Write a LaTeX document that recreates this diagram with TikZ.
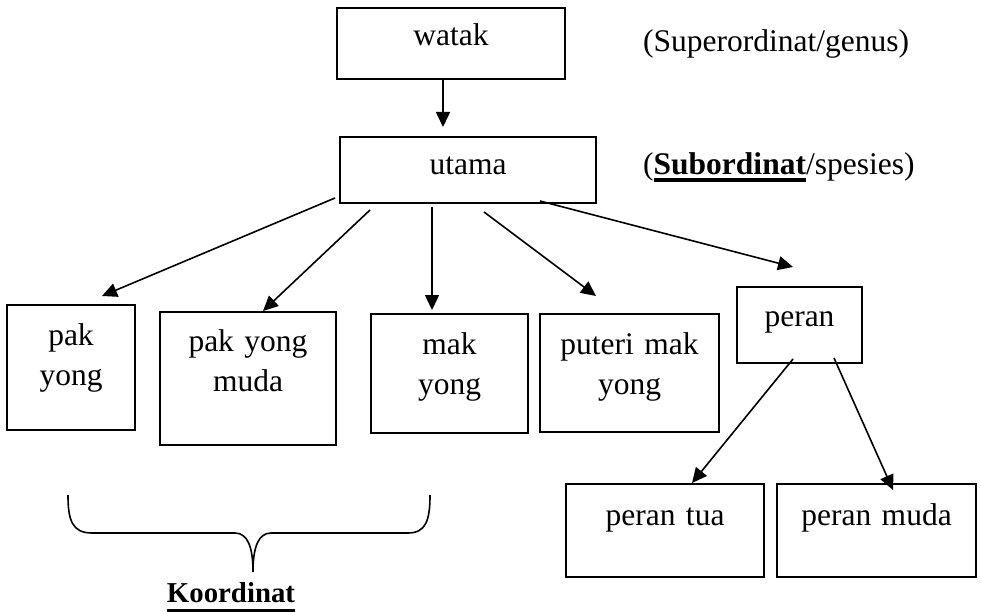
\documentclass[tikz,border=0pt]{standalone}
\usepackage{fontspec}
\setmainfont{Liberation Serif}
\usetikzlibrary{arrows.meta}

\newcommand{\ulword}[2][-7.5pt]{\setbox0\hbox{#2}\rlap{\rule[#1]{\wd0}{3.5pt}}\box0}

\tikzset{every node/.style={font=\fontsize{31.5}{40}\selectfont}}
\tikzset{box/.style n args={3}{draw, line width=1.8pt, inner sep=0pt, outer sep=0pt, anchor=north west, align=center, text width=#1pt, text height=#2pt, text depth=#3pt}}
\tikzset{arr/.style={line width=1.6pt, -{Triangle[length=15pt,width=14pt]}}}
\tikzset{note/.style={anchor=base west, inner sep=0pt}}

\begin{document}
\begin{tikzpicture}[x=1pt, y=-1pt]
				\useasboundingbox (0,0) rectangle (981,612);
				% top levels
				\node[box={228}{38}{33}] (watak) at (337,8) {watak};
				\node[box={256}{38}{28}] (utama) at (340,137) {utama};
				\node[note] (genus) at (643,52) {(Superordinat/genus)};
				\node[note] (spesies) at (643,175) {(\ulword[-7pt]{\textbf{Subordinat}}/spesies)};
				% third level
				\node[box={128}{40}{85}] (pakyong) at (7,305) {pak\\yong};
				\node[box={176}{39}{94}] (pakyongmuda) at (160,312) {pak yong\\muda};
				\node[box={157}{40}{79}] (makyong) at (371,314) {mak\\yong};
				\node[box={179}{40}{78}] (puteri) at (540,314) {puteri mak\\yong};
				\node[box={125}{39}{37}] (peran) at (737,287) {peran};
				\node[box={198}{41}{52}] (perantua) at (566,484) {peran tua};
				\node[box={199}{41}{52}] (peranmuda) at (777,484) {peran muda};
				\draw[arr] ([xshift=106pt]watak.south west) -- ([xshift=103pt,yshift=10pt]utama.north west);
				\draw[arr] ([xshift=-5pt,yshift=5pt]utama.south west) -- ([xshift=95pt,yshift=9pt]pakyong.north west);
				\draw[arr] ([xshift=30pt,yshift=-7pt]utama.south west) -- ([xshift=103pt,yshift=1pt]pakyongmuda.north west);
				\draw[arr] ([xshift=92pt,yshift=-4pt]utama.south west) -- ([xshift=61pt,yshift=4pt]makyong.north west);
				\draw[arr] ([xshift=144pt,yshift=-9pt]utama.south west) -- ([xshift=56pt,yshift=18pt]puteri.north west);
				\draw[arr] ([xshift=200pt,yshift=2pt]utama.south west) -- ([xshift=56pt,yshift=20pt]peran.north west);
				\draw[arr] ([xshift=56pt,yshift=4pt]peran.south west) -- ([xshift=126pt,yshift=1pt]perantua.north west);
				\draw[arr] ([xshift=97pt,yshift=5pt]peran.south west) -- ([xshift=116pt,yshift=-6pt]peranmuda.north west);
				% brace under the coordinates
				\draw[line width=1.6pt] (68,495) .. controls (68,520) and (72,533) .. (92,533) -- (235,533)
					.. controls (248,533) and (253,548) .. (253,572) .. controls (253,548) and (258,533) .. (271,533)
					-- (408,533) .. controls (426,533) and (430,520) .. (430,495);
				\node[anchor=base, inner sep=0pt, font=\fontsize{28.8}{34}\selectfont\bfseries] (koordinat) at (231,602) {\ulword[-10pt]{Koordinat}};
			\end{tikzpicture}
\end{document}
